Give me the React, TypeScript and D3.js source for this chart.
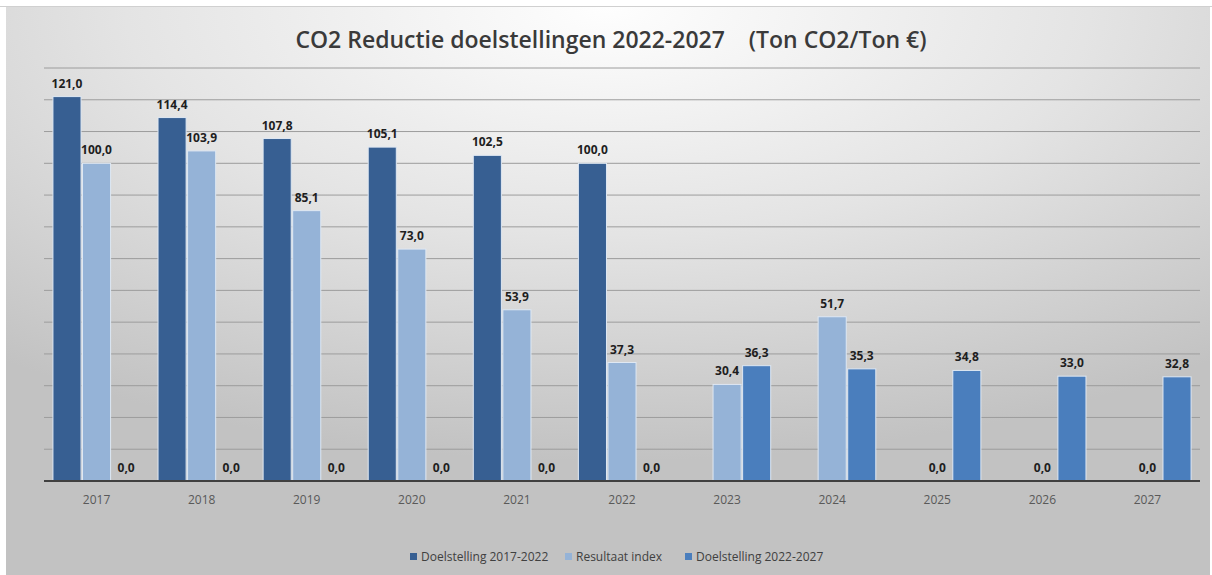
import * as d3 from 'd3';

const years = ['2017', '2018', '2019', '2020', '2021', '2022', '2023', '2024', '2025', '2026', '2027'];
const seriesNames = ['Doelstelling 2017-2022', 'Resultaat index', 'Doelstelling 2022-2027'];
const seriesColors = ['#375f92', '#95b3d7', '#4a7ebd'];

// null = no bar and no label
const doel1722: (number | null)[] = [121.0, 114.4, 107.8, 105.1, 102.5, 100.0, null, null, null, null, null];
const resultaat: (number | null)[] = [100.0, 103.9, 85.1, 73.0, 53.9, 37.3, 30.4, 51.7, 0.0, 0.0, 0.0];
const doel2227: (number | null)[] = [0.0, 0.0, 0.0, 0.0, 0.0, 0.0, 36.3, 35.3, 34.8, 33.0, 32.8];

const yTicks = [0, 10, 20, 30, 40, 50, 60, 70, 80, 90, 100, 110, 120, 130];

const W = 1212;
const H = 575;
const margin = { top: 68, right: 12, bottom: 94, left: 44 };
const FONT = '"Open Sans", "Liberation Sans", sans-serif';

export default function App() {
  const series = [doel1722, resultaat, doel2227];

  const x0 = d3.scaleBand<string>()
    .domain(years)
    .range([margin.left, W - margin.right])
    .paddingInner(0)
    .paddingOuter(0);

  const bw = x0.bandwidth();
  const groupW = bw * 0.83;
  const x1 = d3.scaleBand<number>()
    .domain([0, 1, 2])
    .range([(bw - groupW) / 2, (bw + groupW) / 2])
    .paddingInner(0.05);

  const y = d3.scaleLinear()
    .domain([0, 130])
    .range([H - margin.bottom, margin.top]);

  const fmt = (v: number) => v.toFixed(1).replace('.', ',');

  // legend layout
  const legendX = [410, 565, 685];

  return (
    <svg width={W} height={H} style={{ position: 'absolute', left: 0, top: 0, background: '#fff' }}>
      <defs>
        <radialGradient id="bg" cx="50%" cy="0%" r="80%" fx="50%" fy="0%">
          <stop offset="0%" stopColor="#fefefe" />
          <stop offset="50%" stopColor="#e4e4e4" />
          <stop offset="100%" stopColor="#c2c2c2" />
        </radialGradient>
      </defs>
      <rect x={6} y={7} width={W - 8} height={H - 7} fill="url(#bg)" />
      <line x1={0} x2={W} y1={6.5} y2={6.5} stroke="#d0d0d0" strokeWidth={1} />

      <text x={611} y={48} textAnchor="middle" fontFamily={FONT} fontSize={23} fontWeight={600} fill="#3a3a3a">
        CO2 Reductie doelstellingen 2022-2027{'\u00a0\u00a0\u00a0\u00a0'}(Ton CO2/Ton €)
      </text>

      {/* gridlines */}
      {yTicks.slice(1).map(t => (
        <line key={t} x1={margin.left} x2={W - margin.right} y1={y(t)} y2={y(t)} stroke="#9c9c9c" strokeWidth={1} />
      ))}

      {/* bars */}
      {years.map((yr, i) => (
        <g key={yr} transform={`translate(${x0(yr)},0)`}>
          {series.map((s, k) => {
            const v = s[i];
            if (v === null || v === 0) return null;
            return (
              <rect key={k} x={x1(k)} y={y(v)} width={x1.bandwidth()} height={y(0) - y(v)}
                fill={seriesColors[k]} stroke="#dfe8f3" strokeWidth={1} />
            );
          })}
          {series.map((s, k) => {
            const v = s[i];
            if (v === null) return null;
            return (
              <text key={'l' + k} x={(x1(k) ?? 0) + x1.bandwidth() / 2} y={y(v) - 9} textAnchor="middle"
                fontFamily={FONT} fontSize={12} fontWeight={700} fill="#1e1e1e">
                {fmt(v)}
              </text>
            );
          })}
        </g>
      ))}

      {/* x axis */}
      <line x1={margin.left} x2={W - margin.right} y1={y(0)} y2={y(0)} stroke="#404040" strokeWidth={2} />
      {years.map(yr => (
        <text key={yr} x={(x0(yr) ?? 0) + bw / 2} y={y(0) + 23} textAnchor="middle"
          fontFamily={FONT} fontSize={12} fill="#595959">
          {yr}
        </text>
      ))}

      {/* legend */}
      {seriesNames.map((n, k) => (
        <g key={n} transform={`translate(${legendX[k]},557)`}>
          <rect x={0} y={-4} width={7} height={7} fill={seriesColors[k]} />
          <text x={11} y={4} fontFamily={FONT} fontSize={12} fill="#404040">{n}</text>
        </g>
      ))}
    </svg>
  );
}
